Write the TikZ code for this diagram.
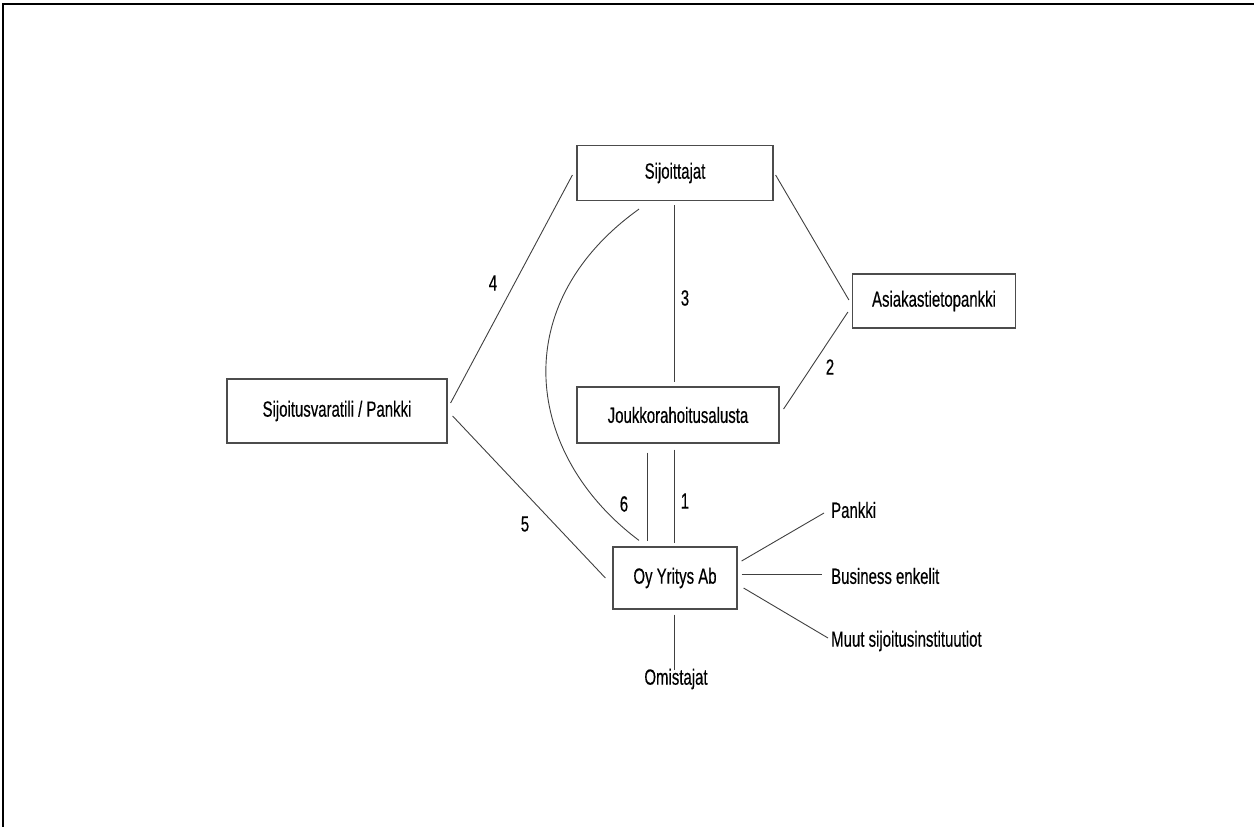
\documentclass[tikz,border=0pt]{standalone}
\usepackage{fontspec}
\setmainfont{Liberation Sans}[FakeStretch=0.68,FakeBold=0.4]
\usetikzlibrary{calc}
\begin{document}
\begin{tikzpicture}[x=1pt,y=-1pt,
  box/.style={draw=black!70,line width=1.2pt,fill=white,inner sep=0pt,font=\fontsize{22}{25}\selectfont},
  lbl/.style={inner sep=0pt,font=\fontsize{22}{25}\selectfont},
  conn/.style={draw=black!75,line width=0.9pt}]
\useasboundingbox (0,0) rectangle (1254,827);
\draw[line width=2.2pt] (3,827) -- (3,4) -- (1254,4);
% boxes
\node[box,minimum width=196pt,minimum height=55pt] (sij) at (675,173) {Sijoittajat};
\node[box,minimum width=163pt,minimum height=54pt] (asi) at (934,301) {Asiakastietopankki};
\node[box,minimum width=202pt,minimum height=56pt] (jou) at (678,415) {Joukkorahoitusalusta};
\node[box,minimum width=220pt,minimum height=64pt] (sv) at (337,411) {Sijoitusvaratili / Pankki};
\node[box,minimum width=124pt,minimum height=62pt] (oy) at (675,578) {Oy Yritys Ab};
% side texts
\node[lbl,anchor=west] (pan) at (831,510) {Pankki};
\node[lbl,anchor=west] (bus) at (831,576) {Business enkelit};
\node[lbl,anchor=west] (muu) at (831,641) {Muut sijoitusinstituutiot};
\node[lbl] (omi) at (676,679) {Omistajat};
% connectors
\draw[conn] ($(sij.east)+(2,2)$) -- ($(asi.west)+(-3,-1)$);
\draw[conn] ($(jou.east)+(4,-6)$) -- ($(asi.west)+(-4,11)$);
\draw[conn] ($(sij.south)+(-1,4)$) -- ($(jou.north)+(-4,-4)$);
\draw[conn] ($(sv.east)+(3,-8)$) -- ($(sij.west)+(-4,2)$);
\draw[conn] ($(sv.east)+(5,5)$) -- ($(oy.west)+(-7,0)$);
\draw[conn] ($(sij.south)+(-36,8)$) .. controls (505,305) and (525,455) .. ($(oy.north)+(-36,-6)$);
\draw[conn] ($(jou.south)+(-31,9)$) -- ($(oy.north)+(-28,-5)$);
\draw[conn] ($(jou.south)+(-4,6)$) -- ($(oy.north)+(-1,-3)$);
\node[lbl] (l3) at (685,298) {3};
\node[lbl] (l4) at (493,283) {4};
\node[lbl] (l5) at (525,524) {5};
\node[lbl] (l6) at (624,504) {6};
\node[lbl] (l1) at (685,501) {1};
\node[lbl] (l2) at (830,367) {2};
\draw[conn] ($(oy.east)+(4,-17)$) -- ($(pan.west)+(-7,3)$);
\draw[conn] ($(oy.east)+(4,-4)$) -- ($(bus.west)+(-9,-2)$);
\draw[conn] ($(oy.east)+(6,10)$) -- ($(muu.west)+(-3,-3)$);
\draw[conn] ($(oy.south)+(-1,5)$) -- ($(omi.north)+(-2,1)$);
\end{tikzpicture}
\end{document}
